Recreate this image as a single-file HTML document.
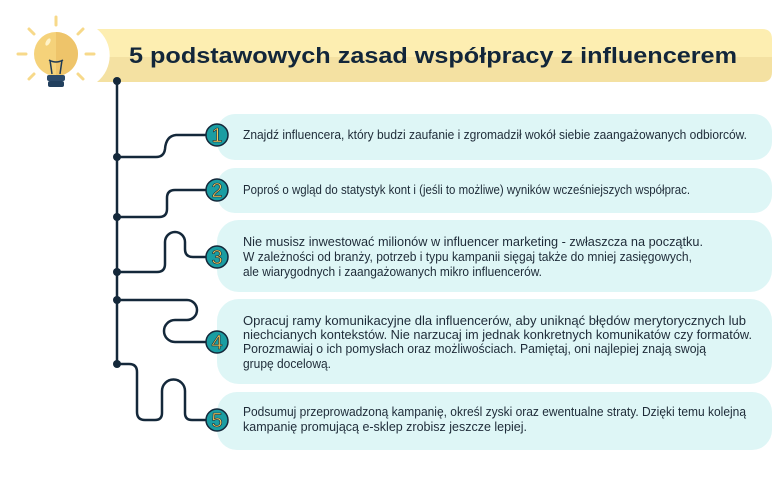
<!DOCTYPE html>
<html><head><meta charset="utf-8"><style>
html,body{margin:0;padding:0;background:#fff;}
svg{display:block;}
text{font-family:"Liberation Sans",sans-serif;}
.t{font-size:12.5px;fill:#1e2b38;}
.n{font-size:20px;fill:#f4c95b;stroke:#14283a;stroke-width:0.6;text-anchor:middle;font-family:"Liberation Sans",sans-serif;}
</style></head><body>
<svg width="780" height="480" viewBox="0 0 780 480" xmlns="http://www.w3.org/2000/svg">
<defs><clipPath id="bc"><path d="M97 29 H762 Q772 29 772 39 V72 Q772 82 762 82 H97 A34 34 0 0 0 97 29 Z"/></clipPath></defs>
<g clip-path="url(#bc)">
<rect x="90" y="29" width="690" height="28" fill="#fdeeb1"/>
<rect x="90" y="57" width="690" height="25" fill="#f4e1a2"/>
</g>
<text x="129" y="63" font-size="22.5" font-weight="bold" fill="#12263a" textLength="608" lengthAdjust="spacingAndGlyphs">5 podstawowych zasad współpracy z influencerem</text>
<!-- bulb -->
<g stroke="#f7d98a" stroke-width="3" stroke-linecap="round">
<line x1="56" y1="17" x2="56" y2="25"/><line x1="29" y1="29" x2="34" y2="34"/><line x1="83" y1="29" x2="78" y2="34"/>
<line x1="18" y1="54" x2="26" y2="54"/><line x1="86" y1="54" x2="94" y2="54"/>
<line x1="29" y1="79" x2="34" y2="74"/><line x1="83" y1="79" x2="78" y2="74"/>
</g>
<circle cx="56" cy="54" r="22" fill="#f5d27a"/>
<path d="M56 32 A22 22 0 0 1 56 76 Z" fill="#eec46a"/>
<path d="M50 60 L52 74 M62 60 L60 74 M49 60 Q56 64 63 60" stroke="#1f3a55" stroke-width="1.5" fill="none"/>
<rect x="47" y="75" width="18" height="6" rx="2" fill="#2c4a6a"/>
<rect x="48" y="81" width="16" height="6" rx="2" fill="#22405e"/>
<ellipse cx="48" cy="42" rx="2" ry="4" fill="#fff3c8" transform="rotate(30 48 42)"/>
<!-- boxes -->
<g fill="#def6f6">
<rect x="217" y="114" width="555" height="46" rx="18"/>
<rect x="217" y="168" width="555" height="45" rx="18"/>
<rect x="217" y="220" width="555" height="72" rx="22"/>
<rect x="217" y="299" width="555" height="85" rx="22"/>
<rect x="217" y="392" width="555" height="58" rx="20"/>
</g>
<!-- connectors -->
<g stroke="#14283a" stroke-width="2.5" fill="none" stroke-linecap="round">
<line x1="117" y1="81" x2="117" y2="364"/>
<path d="M117 157 H156 Q164 157 165 149 Q166 136 176 135 H206"/>
<path d="M117 217 H159 Q167 217 167 209 V198 Q167 190 175 190 H206"/>
<path d="M117 272 H157 Q165 272 165 264 V242 A10 10 0 0 1 185 242 V249 Q185 257 193 257 H206"/>
<path d="M117 300 H187 A10 10 0 0 1 187 320 H175 A11 11 0 0 0 175 342 H206"/>
<path d="M117 364 H129 Q137 364 137 372 V412 Q137 420 145 420 H155 Q162 420 162 413 V391 A11.5 11.5 0 0 1 185 391 V413 Q185 420 192 420 H206"/>
</g>
<g fill="#14283a">
<circle cx="117" cy="81" r="4"/><circle cx="117" cy="157" r="4"/><circle cx="117" cy="217" r="4"/>
<circle cx="117" cy="272" r="4"/><circle cx="117" cy="300" r="4"/><circle cx="117" cy="364" r="4"/>
</g>
<g fill="#1a9da2" stroke="#14283a" stroke-width="1.5">
<circle cx="217" cy="135" r="11"/><circle cx="217" cy="190" r="11"/><circle cx="217" cy="257" r="11"/>
<circle cx="217" cy="342" r="11"/><circle cx="217" cy="420" r="11"/>
</g>
<text class="n" x="217" y="142">1</text><text class="n" x="217" y="197">2</text><text class="n" x="217" y="264">3</text>
<text class="n" x="217" y="349">4</text><text class="n" x="217" y="427">5</text>
<g>
<text class="t" x="243" y="139" textLength="504" lengthAdjust="spacingAndGlyphs">Znajdź influencera, który budzi zaufanie i zgromadził wokół siebie zaangażowanych odbiorców.</text>
<text class="t" x="243" y="194" textLength="447" lengthAdjust="spacingAndGlyphs">Poproś o wgląd do statystyk kont i (jeśli to możliwe) wyników wcześniejszych współprac.</text>
<text class="t" x="243" y="246" textLength="460" lengthAdjust="spacingAndGlyphs">Nie musisz inwestować milionów w influencer marketing - zwłaszcza na początku.</text>
<text class="t" x="243" y="261" textLength="449" lengthAdjust="spacingAndGlyphs">W zależności od branży, potrzeb i typu kampanii sięgaj także do mniej zasięgowych,</text>
<text class="t" x="243" y="276" textLength="299" lengthAdjust="spacingAndGlyphs">ale wiarygodnych i zaangażowanych mikro influencerów.</text>
<text class="t" x="243" y="325" textLength="503" lengthAdjust="spacingAndGlyphs">Opracuj ramy komunikacyjne dla influencerów, aby uniknąć błędów merytorycznych lub</text>
<text class="t" x="243" y="339" textLength="509" lengthAdjust="spacingAndGlyphs">niechcianych kontekstów. Nie narzucaj im jednak konkretnych komunikatów czy formatów.</text>
<text class="t" x="243" y="353" textLength="463" lengthAdjust="spacingAndGlyphs">Porozmawiaj o ich pomysłach oraz możliwościach. Pamiętaj, oni najlepiej znają swoją</text>
<text class="t" x="243" y="368" textLength="88" lengthAdjust="spacingAndGlyphs">grupę docelową.</text>
<text class="t" x="243" y="416" textLength="503" lengthAdjust="spacingAndGlyphs">Podsumuj przeprowadzoną kampanię, określ zyski oraz ewentualne straty. Dzięki temu kolejną</text>
<text class="t" x="243" y="431" textLength="284" lengthAdjust="spacingAndGlyphs">kampanię promującą e-sklep zrobisz jeszcze lepiej.</text>
</g>
</svg>
</body></html>
